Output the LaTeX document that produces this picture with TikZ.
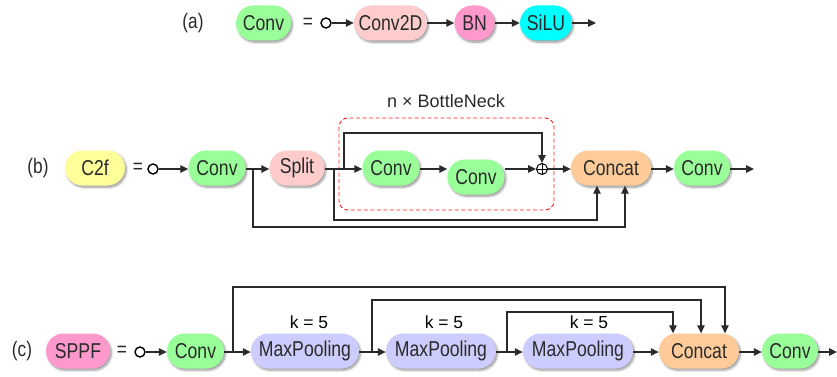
\documentclass[tikz,border=0pt]{standalone}
\usepackage{fontspec}
\setmainfont{Liberation Sans}
\newfontfamily\nodefont[FakeStretch=0.82]{Liberation Sans}
\usetikzlibrary{arrows.meta,shadows.blur,calc}
\definecolor{cgreen}{HTML}{99FF99}
\definecolor{cpink}{HTML}{FFCCCC}
\definecolor{cmag}{HTML}{FF99CC}
\definecolor{ccyan}{HTML}{00FFFF}
\definecolor{cyel}{HTML}{FFFF99}
\definecolor{corange}{HTML}{FFCC99}
\definecolor{cviolet}{HTML}{CCCCFF}
\definecolor{ink}{HTML}{2A2A2A}
\definecolor{dred}{HTML}{FF2020}
\begin{document}
\begin{tikzpicture}[x=1pt,y=-1pt,
  blk/.style={rounded corners=17.5pt,minimum height=35pt,inner sep=0pt,
    font=\nodefont\fontsize{21.5}{24}\selectfont,text=ink,
    blur shadow={shadow blur steps=6,shadow xshift=1.5pt,shadow yshift=-1.8pt,shadow opacity=40}},
  lbl/.style={font=\nodefont\fontsize{21}{24}\selectfont,text=ink,inner sep=0pt},
  klbl/.style={font=\fontsize{17.5}{20}\selectfont,text=black,inner sep=0pt},
  arr/.style={draw=ink,line width=1.1pt,-{Triangle[length=8pt,width=7.5pt]}},
  startc/.style={circle,draw=black,line width=1.4pt,minimum size=10pt,inner sep=0pt},
  plus/.style={circle,draw=black,line width=1pt,minimum size=11pt,inner sep=0pt}
]
\useasboundingbox (0,0) rectangle (837,377);

% ---------- (a)
\node[lbl] (la) at (193,23) {(a)};
\node[blk,fill=cgreen,minimum width=55pt] (aconv) at (263.5,23) {Conv};
\node[lbl] (aeq) at (308,23) {=};
\node[startc] (ac) at (326,23) {};
\node[blk,fill=cpink,minimum width=73pt] (aconv2d) at (390.5,23) {Conv2D};
\node[blk,fill=cmag,minimum width=40pt] (abn) at (474.5,23) {BN};
\node[blk,fill=ccyan,minimum width=52pt] (asilu) at (546,23) {SiLU};
\coordinate (aend) at (596,23);
\draw[arr] (ac) -- (aconv2d);
\draw[arr] (aconv2d) -- (abn);
\draw[arr] (abn) -- (asilu);
\draw[arr] (asilu) -- (aend);

% ---------- (b)
\node[lbl] (lb) at (38,168) {(b)};
\node[blk,fill=cyel,minimum width=60pt] (bc2f) at (95,168) {C2f};
\node[lbl] (beq) at (138,168) {=};
\node[startc] (bc) at (153,169) {};
\node[blk,fill=cgreen,minimum width=57pt] (bconv) at (217,168) {Conv};
\node[blk,fill=cpink,minimum width=55pt] (bsplit) at (297,168) {Split};
\node[blk,fill=cgreen,minimum width=57pt] (bconv1) at (391,168) {Conv};
\node[blk,fill=cgreen,minimum width=57pt] (bconv2) at (476,177) {Conv};
\node[plus] (bplus) at (542,169) {};
\draw[line width=0.8pt] (bplus.north) -- (bplus.south) (bplus.west) -- (bplus.east);
\node[blk,fill=corange,minimum width=80pt] (bconcat) at (611,168) {Concat};
\node[blk,fill=cgreen,minimum width=56pt] (bconv3) at (702,168) {Conv};
\coordinate (bend) at (754,169);
\draw[dred,dash pattern=on 4pt off 2.5pt,line width=0.9pt,rounded corners=9pt] (339,118) rectangle (554,210);
\node[klbl,text=ink,font=\fontsize{18}{20}\selectfont] (bneck) at (446,101) {n × BottleNeck};

\coordinate (bb1) at (253,169);
\coordinate (bb2) at (334,169);
\coordinate (bb3) at (344,169);
\draw[arr] (bc) -- (bconv.west |- bc);
\draw[arr] (bconv.east |- bc) -- (bsplit.west |- bc);
\draw[arr] (bsplit.east |- bc) -- (bconv1.west |- bc);
\draw[arr] (bconv1.east |- bc) -- (bconv2.west |- bc);
\draw[arr] (bconv2.east |- bc) -- (bplus.west);
\draw[arr] (bplus.east) -- (bconcat.west |- bc);
\draw[arr] (bconcat.east |- bc) -- (bconv3.west |- bc);
\draw[arr] (bconv3.east |- bc) -- (bend);
\draw[arr] (bb1) -- ++(0,58) -| ([xshift=14pt]bconcat.south);
\draw[arr] (bb2) -- ++(0,51) -| ([xshift=-14pt]bconcat.south);
\draw[arr] (bb3) -- ++(0,-36) -| (bplus.north);

% ---------- (c)
\node[lbl] (lc) at (22,351) {(c)};
\node[blk,fill=cmag,minimum width=64pt] (csppf) at (78,351) {SPPF};
\node[lbl] (ceq) at (122,351) {=};
\node[startc] (cc) at (140,352) {};
\node[blk,fill=cgreen,minimum width=57pt] (cconv) at (195.5,351) {Conv};
\node[blk,fill=cviolet,minimum width=108pt] (cmp1) at (305,351) {MaxPooling};
\node[blk,fill=cviolet,minimum width=110pt] (cmp2) at (441,351) {MaxPooling};
\node[blk,fill=cviolet,minimum width=110pt] (cmp3) at (578,351) {MaxPooling};
\node[blk,fill=corange,minimum width=80pt] (cconcat) at (699,351) {Concat};
\node[blk,fill=cgreen,minimum width=56pt] (cconv2) at (790,351) {Conv};
\coordinate (cend) at (837,352);
\node[klbl] (ck1) at (309,322) {k = 5};
\node[klbl] (ck2) at (444,322) {k = 5};
\node[klbl] (ck3) at (589,322) {k = 5};

\coordinate (cb1) at (233,352);
\coordinate (cb2) at (372,352);
\coordinate (cb3) at (507,352);
\draw[arr] (cc) -- (cconv.west |- cc);
\draw[arr] (cconv.east |- cc) -- (cmp1.west |- cc);
\draw[arr] (cmp1.east |- cc) -- (cmp2.west |- cc);
\draw[arr] (cmp2.east |- cc) -- (cmp3.west |- cc);
\draw[arr] (cmp3.east |- cc) -- (cconcat.west |- cc);
\draw[arr] (cconcat.east |- cc) -- (cconv2.west |- cc);
\draw[arr] (cconv2.east |- cc) -- (cend);
\draw[arr] (cb1) -- ++(0,-65) -| ([xshift=26pt]cconcat.north);
\draw[arr] (cb2) -- ++(0,-52) -| ([xshift=2pt]cconcat.north);
\draw[arr] (cb3) -- ++(0,-40) -| ([xshift=-26pt]cconcat.north);
\end{tikzpicture}
\end{document}
